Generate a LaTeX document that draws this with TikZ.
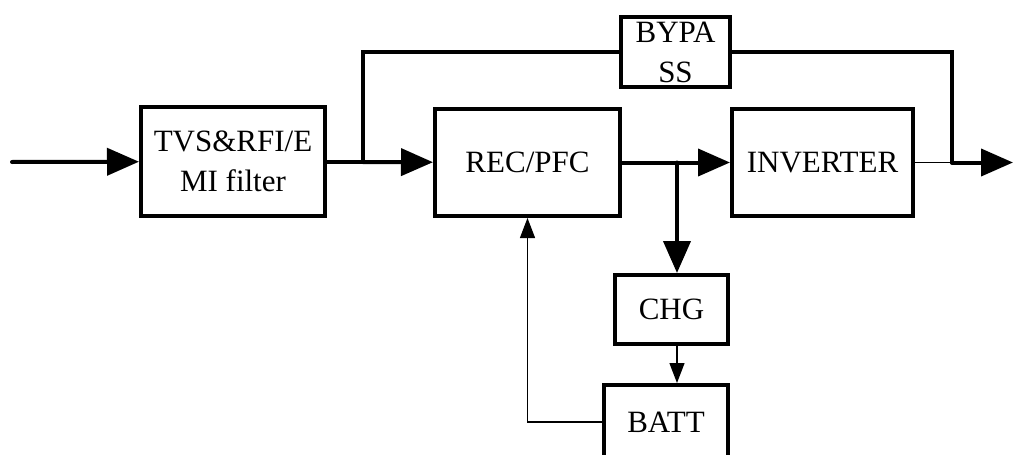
\documentclass[tikz,border=0pt]{standalone}
\usepackage{fontspec}
\setmainfont{Liberation Serif}
\usepackage{tikz}
\usetikzlibrary{arrows.meta, positioning, calc}

\begin{document}
\begin{tikzpicture}[
      x=0.5pt, y=-0.5pt,
      blk/.style={rectangle, draw, line width=2pt, inner sep=0pt,
                  font=\fontsize{15.5pt}{20pt}\selectfont, align=center},
      bus/.style={line width=2pt, line cap=round},
      busarr/.style={bus, -{Triangle[length=16pt, width=13.5pt]}},
      sig/.style={line width=0.65pt},
      sigarr/.style={sig, -{Triangle[length=10pt, width=7.5pt]}}
    ]
    \useasboundingbox (0,0) rectangle (1014,455);

    \node[blk, minimum width=92pt, minimum height=54.5pt] (emi) at (233,161.5) {TVS\&RFI/E\\MI filter};
    \node[blk, minimum width=92.5pt, minimum height=53.5pt] (rec) at (527.5,162.5) {REC/PFC};
    \node[blk, minimum width=90.5pt, minimum height=53.5pt] (inv) at (822.5,162.5) {INVERTER};
    \node[blk, minimum width=54.5pt, minimum height=35pt] (byp) at (675.5,52) {BYPA\\SS};
    \node[blk, minimum width=56.5pt, minimum height=34.5pt] (chg) at (671.5,309.5) {CHG};
    \node[blk, minimum width=62pt, minimum height=37pt] (batt) at (666,422) {BATT};

    \coordinate (in) at (12,162);
    \coordinate (split) at (363,162);
    \coordinate (tap) at (677,162.5);
    \coordinate (join) at (952,162.5);
    \coordinate (out) at (1013,162.5);

    \draw[busarr] (in) -- (emi);
    \draw[bus] (emi.east |- split) -- (split);
    \draw[busarr] (split) -- (rec);
    \draw[bus] (split) |- (byp.west);
    \draw[bus] (byp.east) -| (join);
    \draw[busarr] (rec) -- (inv);
    \draw[busarr] (tap) -- (tap |- chg.north);
    \draw[sig] (inv.east) -- (join);
    \draw[busarr] (join) -- (out);
    \draw[sigarr] (chg.south -| tap) -- (batt.north -| tap);
    \draw[sigarr] (batt.west) -| (rec.south);
  \end{tikzpicture}
\end{document}
